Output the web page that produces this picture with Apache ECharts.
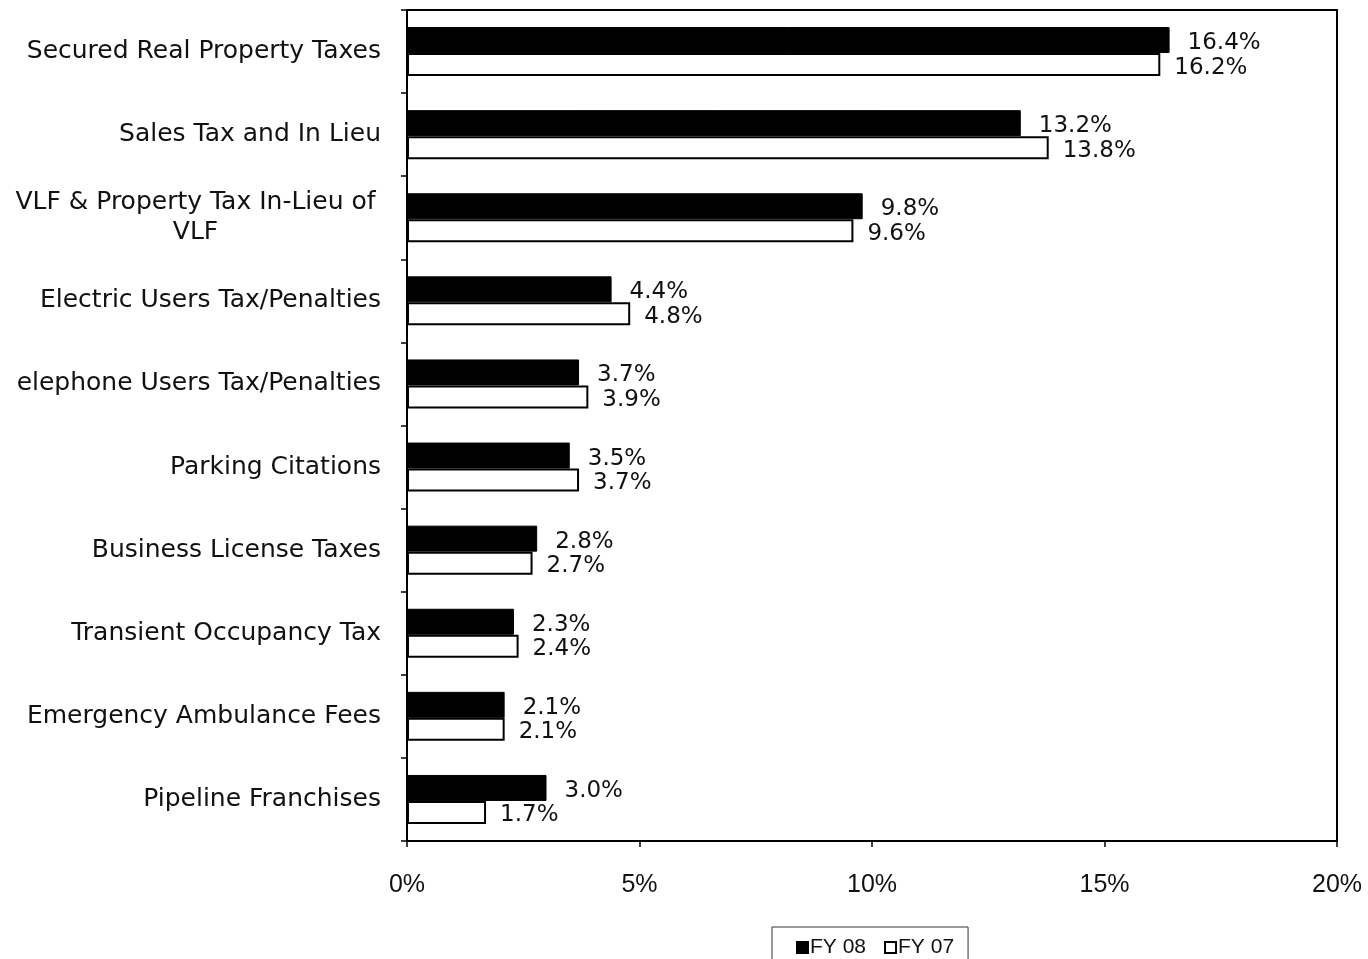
<!DOCTYPE html>
<html>
<head>
<meta charset="utf-8">
<script src="https://cdn.jsdelivr.net/npm/echarts@6/dist/echarts.min.js"></script>
<style>html,body{margin:0;padding:0;background:#fff}#c{width:1368px;height:959px}</style>
</head>
<body>
<div id="c"></div>
<script>
const categories = [
  "Secured Real Property Taxes",
  "Sales Tax and In Lieu",
  "VLF & Property Tax In-Lieu of\nVLF",
  "Electric Users Tax/Penalties",
  "elephone Users Tax/Penalties",
  "Parking Citations",
  "Business License Taxes",
  "Transient Occupancy Tax",
  "Emergency Ambulance Fees",
  "Pipeline Franchises"
];
const fy08 = [16.4, 13.2, 9.8, 4.4, 3.7, 3.5, 2.8, 2.3, 2.1, 3.0];
const fy07 = [16.2, 13.8, 9.6, 4.8, 3.9, 3.7, 2.7, 2.4, 2.1, 1.7];
const xTicks = [0, 5, 10, 15, 20];

const FONT = "Liberation Sans, Arial, sans-serif";
const WFONT = "DejaVu Sans, Liberation Sans, sans-serif";
const chart = echarts.init(document.getElementById('c'), null, {renderer: 'canvas'});
chart.setOption({
  animation: false,
  backgroundColor: '#fff',
  textStyle: {fontFamily: FONT, color: '#111'},
  grid: {left: 407, right: 31, top: 10, bottom: 118, show: true, borderColor: '#000', borderWidth: 2, backgroundColor: 'transparent'},
  legend: {
    data: ['FY 08', 'FY 07'],
    left: 772, top: 927,
    borderColor: '#333', borderWidth: 1,
    padding: [10, 14, 20, 24],
    itemWidth: 11, itemHeight: 11, itemGap: 18,
    icon: 'rect',
    textStyle: {fontSize: 21, fontFamily: FONT, color: '#111', padding: [0, 0, 0, -3]}
  },
  xAxis: {
    type: 'value', min: xTicks[0], max: xTicks[xTicks.length - 1], interval: 5,
    splitLine: {show: false},
    axisLine: {show: true, lineStyle: {color: '#000', width: 2}},
    axisTick: {show: true, length: 6, lineStyle: {color: '#000', width: 1.5}},
    axisLabel: {formatter: '{value}%', fontSize: 25, color: '#111', margin: 32, fontFamily: FONT}
  },
  yAxis: {
    type: 'category', data: categories, inverse: true,
    axisLine: {show: true, lineStyle: {color: '#000', width: 2}},
    axisTick: {show: true, length: 6, lineStyle: {color: '#000', width: 1.5}},
    axisLabel: {
      fontSize: 25, color: '#111', margin: 26, fontFamily: WFONT, lineHeight: 30,
      formatter: function (v) {
        if (v.indexOf('\n') >= 0) {
          return v.split('\n').map(s => '{c|' + s + '}').join('\n');
        }
        return v;
      },
      rich: {c: {width: 371, align: 'center', fontSize: 25, fontFamily: WFONT, color: '#111', lineHeight: 30}}
    }
  },
  series: [
    {
      name: 'FY 08', type: 'bar', data: fy08, barWidth: 26, barGap: '0%',
      itemStyle: {color: '#000', borderColor: '#000', borderWidth: 1},
      label: {show: true, position: 'right', distance: 18, offset: [0, 3], fontSize: 23, color: '#111', fontFamily: WFONT,
        formatter: p => p.value.toFixed(1) + '%'}
    },
    {
      name: 'FY 07', type: 'bar', data: fy07, barWidth: 23, barGap: '0%',
      itemStyle: {color: '#fff', borderColor: '#000', borderWidth: 2},
      label: {show: true, position: 'right', distance: 14, offset: [0, 3], fontSize: 23, color: '#111', fontFamily: WFONT,
        formatter: p => p.value.toFixed(1) + '%'}
    }
  ]
});
</script>
</body>
</html>
